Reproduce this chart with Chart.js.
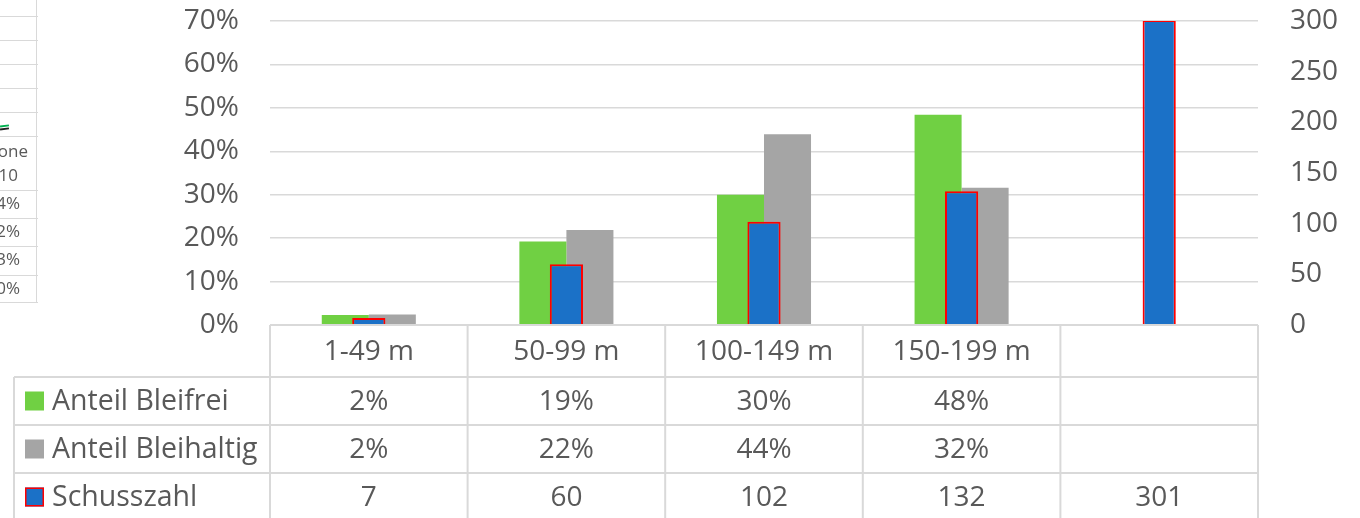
<!DOCTYPE html>
<html lang="de">
<head>
<meta charset="utf-8">
<title>Anteil Bleifrei / Bleihaltig und Schusszahl</title>
<script src="https://cdn.jsdelivr.net/npm/chart.js@4/dist/chart.umd.min.js"></script>
<style>
  html, body { margin: 0; padding: 0; background: #fff; }
  #wrap { position: relative; width: 1360px; height: 518px; overflow: hidden; }
  #chart { position: absolute; left: 0; top: 0; }
  /* Rest einer anderen Tabelle am linken Rand */
  #fragment { position: absolute; left: 0; top: 0; width: 38px; height: 304px; overflow: hidden;
              font-family: "Open Sans", sans-serif; font-size: 17px; color: #595959; }
  #fragment .h { position: absolute; left: 0; width: 38px; height: 0; border-top: 1.5px solid #d9d9d9; }
  #fragment .v { position: absolute; left: 36px; top: 0; width: 0; height: 303px; border-left: 1.5px solid #d9d9d9; }
  #fragment .t { position: absolute; right: 0; text-align: right; white-space: nowrap; line-height: 20px; }
  #fragment .stub { position: absolute; left: 0; height: 2px; width: 9px; }
</style>
</head>
<body>
<div id="wrap">
  <canvas id="chart" width="1360" height="518"></canvas>
  <div id="fragment">
    <div class="h" style="top:16px"></div>
    <div class="h" style="top:40px"></div>
    <div class="h" style="top:64px"></div>
    <div class="h" style="top:88px"></div>
    <div class="h" style="top:112px"></div>
    <div class="h" style="top:136px"></div>
    <div class="h" style="top:190px"></div>
    <div class="h" style="top:218px"></div>
    <div class="h" style="top:246px"></div>
    <div class="h" style="top:275px"></div>
    <div class="h" style="top:302px"></div>
    <div class="v"></div>
    <div class="stub" style="top:125px;background:#00b050;transform:rotate(-8deg)"></div>
    <div class="stub" style="top:128px;background:#222;transform:rotate(-8deg)"></div>
    <div class="t" style="top:141px;right:10px">one</div>
    <div class="t" style="top:165px;right:20px">10</div>
    <div class="t" style="top:193px;right:18px">4%</div>
    <div class="t" style="top:221px;right:18px">2%</div>
    <div class="t" style="top:249px;right:18px">3%</div>
    <div class="t" style="top:278px;right:18px">0%</div>
  </div>
</div>
<script>
// ========================= DATEN =========================
const categories = ['1-49 m', '50-99 m', '100-149 m', '150-199 m', ''];
const anteilBleifrei = [0.023, 0.192, 0.300, 0.484, null];
const anteilBleihaltig = [0.024, 0.219, 0.439, 0.316, null];
const schusszahl = [7, 60, 102, 132, 301];

const seriesNames = ['Anteil Bleifrei', 'Anteil Bleihaltig', 'Schusszahl'];

// Achsenbereiche
const percentMax = 0.7;
const percentStep = 0.1;
const countMax = 300;
const countStep = 50;

// ======================== STIL ===========================
const FONT = '"Open Sans", sans-serif';
const TEXT_COLOR = '#595959';
const LINE_COLOR = '#d9d9d9';
const GREEN = '#70d043';
const GRAY = '#a5a5a5';
const BLUE = '#1b71c7';
const RED = '#ff0000';

// Prozentwerte im Tabellenformat
function fmtPercent(v) {
  if (v === null || v === undefined) return '';
  return Math.round(v * 100) + '%';
}
function fmtCount(v) {
  if (v === null || v === undefined) return '';
  return String(v);
}

// ================ DATENTABELLE UNTER DEM DIAGRAMM ================
const dataTablePlugin = {
  id: 'dataTable',
  afterDraw(chart) {
    const { ctx, chartArea } = chart;
    const xScale = chart.scales.x;
    const n = categories.length;
    const colW = (xScale.right - xScale.left) / n;
    const top = chartArea.bottom;
    const rowEdges = [top, top + 52, top + 100, top + 148, top + 196];
    const tableLeft = 14;
    const right = xScale.right;

    ctx.save();
    ctx.strokeStyle = LINE_COLOR;
    ctx.lineWidth = 2;

    // horizontale Linien
    ctx.beginPath();
    ctx.moveTo(xScale.left, rowEdges[0]);
    ctx.lineTo(right, rowEdges[0]);
    for (let r = 1; r < rowEdges.length; r++) {
      ctx.moveTo(tableLeft, rowEdges[r]);
      ctx.lineTo(right, rowEdges[r]);
    }
    // vertikale Linien
    ctx.moveTo(tableLeft, rowEdges[1]);
    ctx.lineTo(tableLeft, rowEdges[4]);
    for (let i = 0; i <= n; i++) {
      const x = xScale.left + i * colW;
      ctx.moveTo(x, rowEdges[0]);
      ctx.lineTo(x, rowEdges[4]);
    }
    ctx.stroke();

    // Texte
    ctx.fillStyle = TEXT_COLOR;
    ctx.font = '28px ' + FONT;
    ctx.textBaseline = 'middle';
    ctx.textAlign = 'center';

    const rowMid = (r) => (rowEdges[r] + rowEdges[r + 1]) / 2 + 1;

    categories.forEach((c, i) => {
      ctx.fillText(c, xScale.getPixelForValue(i), rowMid(0));
    });

    const rows = [
      anteilBleifrei.map(fmtPercent),
      anteilBleihaltig.map(fmtPercent),
      schusszahl.map(fmtCount)
    ];
    rows.forEach((vals, r) => {
      vals.forEach((v, i) => {
        ctx.fillText(v, xScale.getPixelForValue(i), rowMid(r + 1));
      });
    });

    // Legendenspalte
    const swatches = [
      { fill: GREEN, stroke: null },
      { fill: GRAY, stroke: null },
      { fill: BLUE, stroke: RED }
    ];
    ctx.textAlign = 'left';
    seriesNames.forEach((name, r) => {
      const cy = rowMid(r + 1) - 1;
      const sw = swatches[r];
      ctx.fillStyle = sw.fill;
      ctx.fillRect(25, cy - 9.5, 19, 19);
      if (sw.stroke) {
        ctx.strokeStyle = sw.stroke;
        ctx.lineWidth = 1.5;
        ctx.strokeRect(25.75, cy - 8.75, 17.5, 17.5);
      }
      ctx.fillStyle = TEXT_COLOR;
      ctx.font = '28.5px ' + FONT;
      ctx.fillText(name, 52, rowMid(r + 1));
    });

    ctx.restore();
  }
};

// ========================= CHART =========================
const ctx = document.getElementById('chart').getContext('2d');

// Abstand Beschriftung <-> Zeichenflaeche ueber unsichtbare Tick-Striche,
// damit ticks.padding nicht die obere Kante nach unten schiebt
const hiddenTicks = { tickLength: 31, tickColor: 'rgba(0,0,0,0)', drawTicks: true };

const chart = new Chart(ctx, {
  type: 'bar',
  data: {
    labels: categories,
    datasets: [
      {
        label: seriesNames[0],
        data: anteilBleifrei,
        backgroundColor: GREEN,
        yAxisID: 'y',
        order: 1,
        categoryPercentage: 0.476,
        barPercentage: 1.0
      },
      {
        label: seriesNames[1],
        data: anteilBleihaltig,
        backgroundColor: GRAY,
        yAxisID: 'y',
        order: 1,
        categoryPercentage: 0.476,
        barPercentage: 1.0
      },
      {
        label: seriesNames[2],
        data: schusszahl,
        backgroundColor: BLUE,
        borderColor: RED,
        borderWidth: 2,
        yAxisID: 'y2',
        order: 0,
        grouped: false,
        categoryPercentage: 0.168,
        barPercentage: 1.0
      }
    ]
  },
  options: {
    responsive: false,
    animation: false,
    devicePixelRatio: 1,
    layout: {
      padding: { top: 21, bottom: 193, left: 0, right: 0 }
    },
    plugins: {
      legend: { display: false },
      tooltip: { enabled: false }
    },
    scales: {
      x: {
        display: false
      },
      y: {
        position: 'left',
        min: 0,
        max: percentMax,
        border: { display: false },
        grid: { color: LINE_COLOR, lineWidth: 1.5, ...hiddenTicks },
        ticks: {
          stepSize: percentStep,
          padding: 0,
          color: TEXT_COLOR,
          font: { family: FONT, size: 28 },
          callback: (v) => Math.round(v * 100) + '%'
        },
        afterFit(scale) { scale.width = 270; }
      },
      y2: {
        position: 'right',
        min: 0,
        max: countMax,
        border: { display: false },
        grid: { drawOnChartArea: false, ...hiddenTicks, tickLength: 32 },
        ticks: {
          stepSize: countStep,
          padding: 0,
          color: TEXT_COLOR,
          font: { family: FONT, size: 28 }
        },
        afterFit(scale) { scale.width = 102; }
      }
    }
  },
  plugins: [dataTablePlugin]
});
</script>
</body>
</html>
